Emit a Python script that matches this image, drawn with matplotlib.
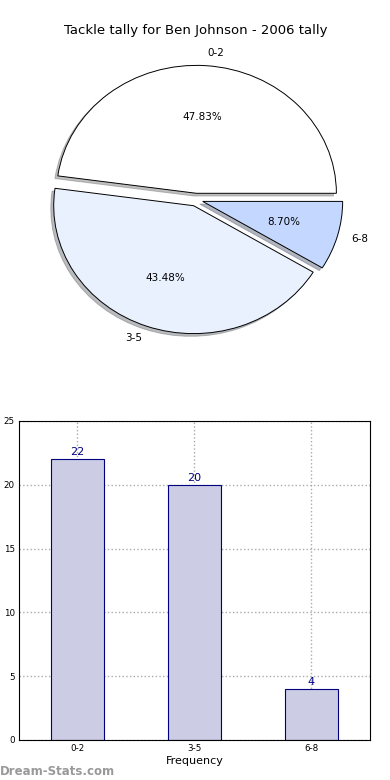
import matplotlib
matplotlib.use('Agg')
from matplotlib import pyplot as plt
import numpy as np

labels = ['0-2', '3-5', '6-8']
counts = [22, 20, 4]
pie_colors = ['#ffffff', '#eaf1fe', '#c4d8ff']
title = 'Tackle tally for Ben Johnson - 2006 tally'

fig = plt.figure(figsize=(3.9, 7.8), dpi=100)

# pie on top
ax1 = fig.add_axes([0.054, 0.539, 0.897, 0.41])
wedges, texts, autotexts = ax1.pie(counts, labels=labels, colors=pie_colors,
                                   explode=[0.05, 0.05, 0.05],
                                   shadow={'ox': -0.015, 'oy': -0.015, 'shade': 0.5},
                                   autopct='%1.2f%%', startangle=0,
                                   wedgeprops={'edgecolor': 'black', 'linewidth': 0.7},
                                   textprops={'fontsize': 7.5})
ax1.set_aspect('auto')
ax1.set_title(title, fontsize=9.5, pad=4)

# bars below
ax2 = fig.add_axes([0.0487, 0.0513, 0.9, 0.409])
x = np.arange(len(labels))
bars = ax2.bar(x, counts, width=0.45, color='#ccccE4', edgecolor='#000080',
               linewidth=0.8, zorder=2)
for b, v in zip(bars, counts):
    ax2.text(b.get_x() + b.get_width() / 2, v + 0.15, str(v), ha='center',
             va='bottom', color='#000080', fontsize=8)
ax2.set_xlim(-0.5, 2.5)
ax2.set_ylim(0, 25)
ax2.set_xticks(x)
ax2.set_xticklabels(labels)
ax2.set_yticks([0, 5, 10, 15, 20, 25])
ax2.tick_params(labelsize=6.3, length=0, pad=3)
ax2.grid(True, linestyle=':', color='#aaaaaa', linewidth=1)
ax2.set_xlabel('Frequency', fontsize=8, labelpad=2)
ax2.set_ylabel('Occurrences', fontsize=6, labelpad=4)
for s in ax2.spines.values():
    s.set_linewidth(0.8)

fig.text(0.0, 0.003, 'Dream-Stats.com', color='#999999', fontsize=8.5,
         fontweight='bold', ha='left', va='bottom')

fig.savefig('out.png', dpi=100)
